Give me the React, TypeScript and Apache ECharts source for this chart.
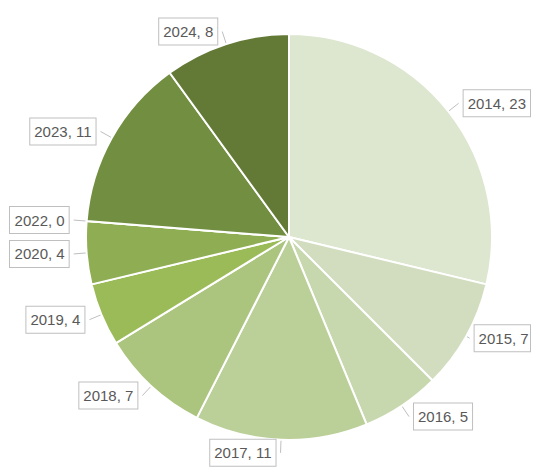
import React, { useEffect, useRef } from "react";
import * as echarts from "echarts";

const years = ["2014", "2015", "2016", "2017", "2018", "2019", "2020", "2022", "2023", "2024"];
const counts = [23, 7, 5, 11, 7, 4, 4, 0, 11, 8];
const colors = [
  "#DDE6CF",
  "#D1DDBE",
  "#C7D8AE",
  "#BBD098",
  "#ABC47E",
  "#9BBB59",
  "#8FAD52",
  "#7E9C47",
  "#728F41",
  "#637A37",
];

export default function App() {
  const ref = useRef<HTMLDivElement>(null);
  useEffect(() => {
    if (!ref.current) return;
    const chart = echarts.init(ref.current, undefined, { renderer: "svg" });
    chart.setOption({
      animation: false,
      backgroundColor: "#ffffff",
      series: [
        {
          type: "pie",
          center: [289, 237],
          radius: [0, 203],
          startAngle: 90,
          clockwise: true,
          avoidLabelOverlap: true,
          data: years.map((y, i) => ({
            name: y,
            value: counts[i],
            itemStyle: { color: colors[i] },
            // keep the right-edge label inside the canvas
            ...(y === "2015" ? { labelLine: { length: 4 } } : {}),
          })),
          itemStyle: { borderColor: "#ffffff", borderWidth: 2 },
          label: {
            show: true,
            position: "outside",
            overflow: "none",
            formatter: (p: any) => `${p.name}, ${p.value}`,
            color: "#595959",
            fontFamily: "Liberation Sans, Arial, sans-serif",
            fontSize: 15,
            lineHeight: 18,
            backgroundColor: "#ffffff",
            borderColor: "#BFBFBF",
            borderWidth: 1,
            padding: [4, 4],
          },
          labelLine: {
            show: true,
            length: 13,
            length2: 0,
            lineStyle: { color: "#BFBFBF", width: 1 },
          },
        },
      ],
    });
    return () => chart.dispose();
  }, []);
  return (
    <div
      ref={ref}
      style={{ position: "fixed", left: 0, top: 0, width: 540, height: 475 }}
    />
  );
}
